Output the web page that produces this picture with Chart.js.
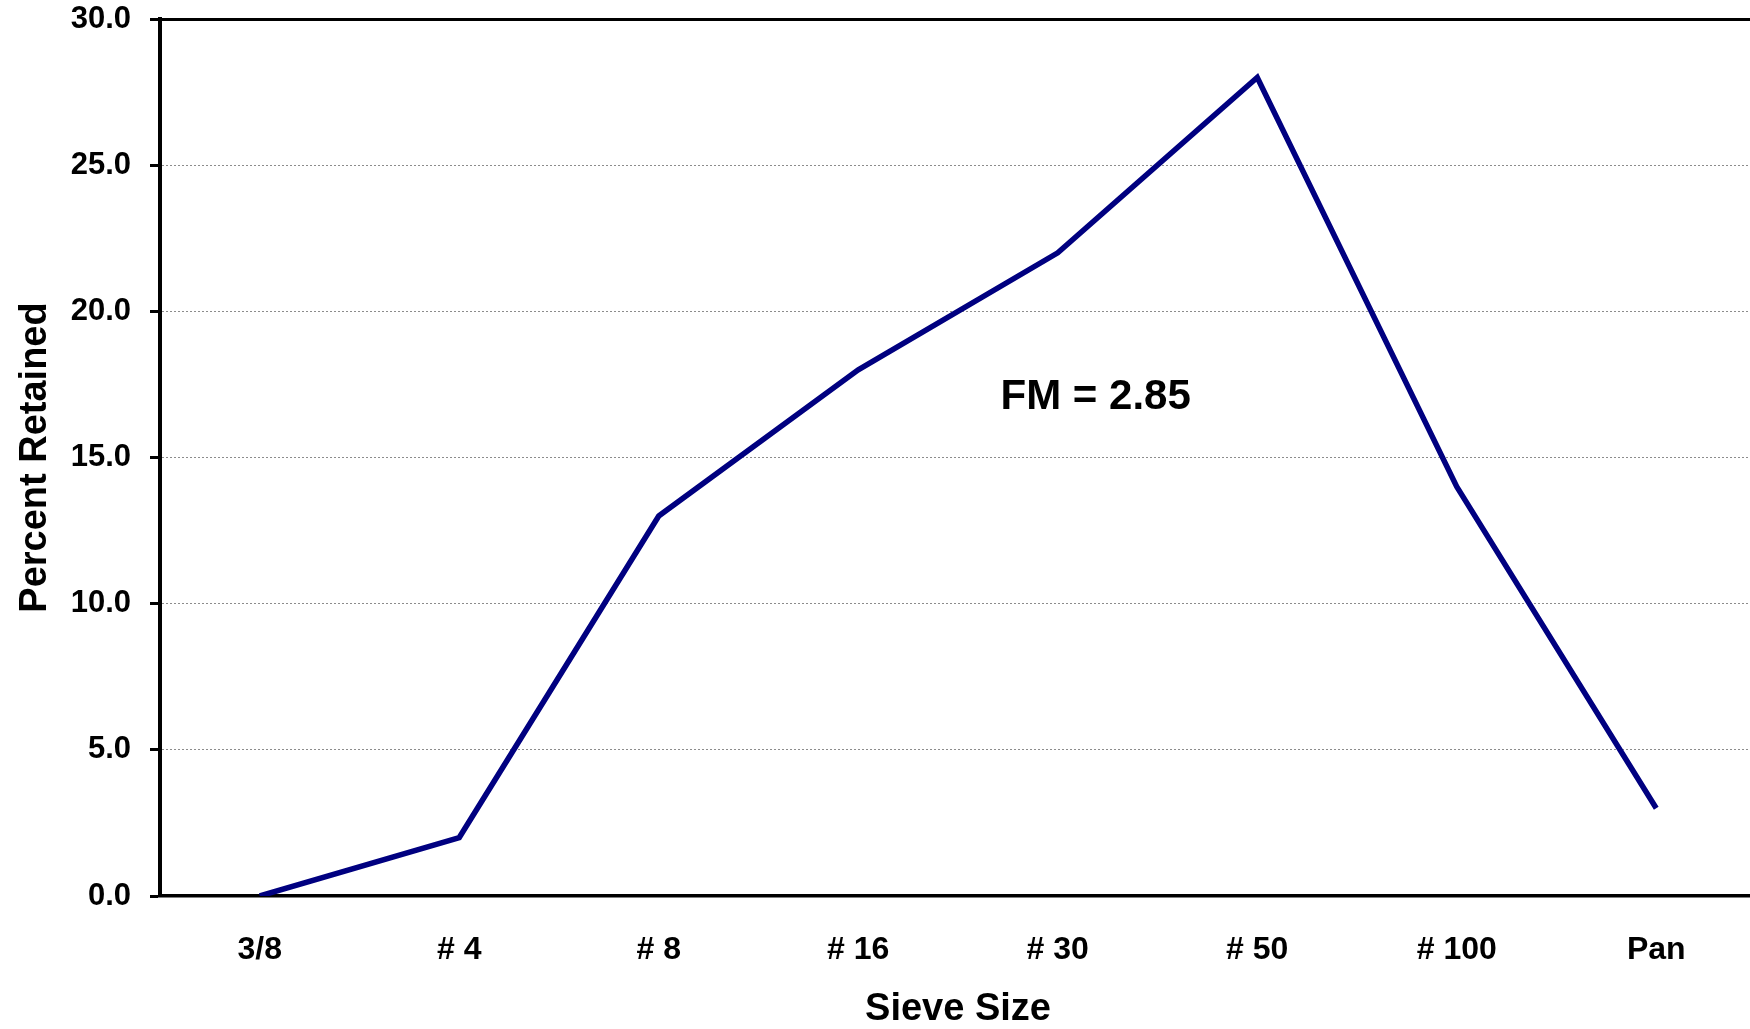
<!DOCTYPE html>
<html>
<head>
<meta charset="utf-8">
<title>Sieve Analysis</title>
<script src="https://cdn.jsdelivr.net/npm/chart.js@4/dist/chart.umd.min.js"></script>
<style>
  html, body { margin: 0; padding: 0; background: #fff; overflow: hidden; }
  #wrap { position: relative; width: 1756px; height: 1029px; }
</style>
</head>
<body>
<div id="wrap"><canvas id="chart"></canvas></div>
<script>
const sieveSizes = ["3/8", "# 4", "# 8", "# 16", "# 30", "# 50", "# 100", "Pan"]
const percentRetained = [0, 2, 13, 18, 22, 28, 14, 3]
const yMin = 0
const yMax = 30
const yStep = 5

// annotation, placed in data units (category index, percent)
const fmLabel = "FM = 2.85"
const fmAt = [4.19, 17.07]

const FONT = 'Arial, "Liberation Sans", Helvetica, sans-serif'

const fmText = {
  id: "fmText",
  afterDatasetsDraw(chart) {
    const { ctx, scales } = chart
    ctx.save()
    ctx.font = "bold 42px " + FONT
    ctx.fillStyle = "#000"
    ctx.textAlign = "center"
    ctx.textBaseline = "middle"
    ctx.fillText(fmLabel, scales.x.getPixelForValue(fmAt[0]), scales.y.getPixelForValue(fmAt[1]))
    ctx.restore()
  },
}

new Chart(document.getElementById("chart"), {
  type: "line",
  data: {
    labels: sieveSizes,
    datasets: [
      {
        data: percentRetained,
        borderColor: "#000080",
        borderWidth: 5.5,
        pointRadius: 0,
        tension: 0,
        fill: false,
      },
    ],
  },
  options: {
    animation: false,
    responsive: true,
    maintainAspectRatio: false,
    layout: { padding: { top: 19, left: 0, right: 0, bottom: 0 } },
    plugins: { legend: { display: false }, tooltip: { enabled: false } },
    scales: {
      x: {
        offset: true,
        grid: { drawOnChartArea: false, drawTicks: false },
        border: { color: "#000", width: 3.5 },
        ticks: {
          padding: 35,
          color: "#000",
          font: { family: FONT, size: 32, weight: "bold" },
        },
        title: {
          display: true,
          text: "Sieve Size",
          color: "#000",
          padding: 0,
          font: { family: FONT, size: 38, weight: "bold", lineHeight: 1.0 },
        },
        afterFit: s => {
          s.height = 133
          s.paddingLeft = 0
          s.paddingRight = 0
        },
      },
      y: {
        min: yMin,
        max: yMax,
        grid: {
          color: c => (c.tick && c.tick.value === yMax ? "#000" : "#8c8c8c"),
          lineWidth: c => (c.tick && c.tick.value === yMax ? 3 : 1),
          tickColor: "#000",
          tickWidth: 3,
          tickLength: 10,
        },
        border: {
          color: "#000",
          width: 4,
          dash: c => (c.tick && c.tick.value === yMax ? [] : [2, 2]),
        },
        ticks: {
          stepSize: yStep,
          padding: 19,
          color: "#000",
          font: { family: FONT, size: 31, weight: "bold" },
          callback: v => Number(v).toFixed(1),
        },
        title: {
          display: true,
          text: "Percent Retained",
          color: "#000",
          padding: { top: 13, bottom: 0 },
          font: { family: FONT, size: 38, weight: "bold" },
        },
        afterFit: s => {
          s.width = 160
          s.paddingTop = 0
          s.paddingBottom = 0
        },
      },
    },
  },
  plugins: [fmText],
})
</script>
</body>
</html>
